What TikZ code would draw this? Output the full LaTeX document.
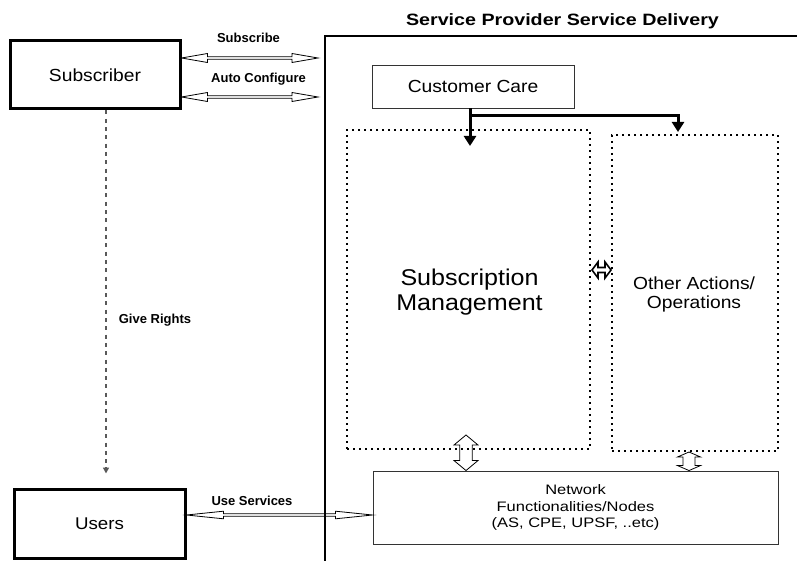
\documentclass[tikz,border=0pt]{standalone}
\usepackage{fontspec}
\setmainfont{Liberation Sans}
\newfontfamily\wf[FakeStretch=1.2]{Liberation Sans}
\newfontfamily\mf[FakeStretch=1.1]{Liberation Sans}
\usetikzlibrary{arrows.meta,calc}
% horizontal double-headed hollow arrow: [style] A B headlength halfwidth shafthalfwidth
\newcommand\hbiarrow[6][]{%
  \draw[hollow,#1] (#2) -- ++(#4,#5) -- ++(0,#6-#5) -- ($(#3)+(-#4,#6)$) -- ++(0,#5-#6) -- (#3)
    -- ++(-#4,-#5) -- ++(0,#5-#6) -- ($(#2)+(#4,-#6)$) -- ++(0,#6-#5) -- cycle;}
% vertical double-headed hollow arrow: [style] Atop Bbottom headlength halfwidth shafthalfwidth
\newcommand\vbiarrow[6][]{%
  \draw[hollow,#1] (#2) -- ++(#5,#4) -- ++(#6-#5,0) -- ($(#3)+(#6,-#4)$) -- ++(#5-#6,0) -- (#3)
    -- ++(-#5,-#4) -- ++(#5-#6,0) -- ($(#2)+(-#6,#4)$) -- ++(#6-#5,0) -- cycle;}
\begin{document}
\begin{tikzpicture}[x=1pt,y=-1pt,
  thickbox/.style={draw, line width=3pt, inner sep=0pt},
  thinbox/.style={draw=black!80, line width=0.9pt, inner sep=0pt},
  dotbox/.style={draw, line width=2pt, dash pattern=on 2pt off 4pt, inner sep=0pt},
  lbl/.style={font=\fontsize{13}{15}\selectfont\bfseries, inner sep=0pt},
  hollow/.style={draw=black, line width=0.8pt, line join=miter},
  ccarrow/.style={line width=3pt, -{Triangle[length=10pt,width=12pt]}},
  rightsarrow/.style={draw=black!65, line width=1.5pt, dash pattern=on 4pt off 4.3pt,
    -{Triangle[length=6pt,width=6pt]}}]
\useasboundingbox (0,0) rectangle (797,561);

% boxes
\node[thickbox, minimum width=170pt, minimum height=68pt, font=\mf\fontsize{17.5}{20}\selectfont]
  (sub) at (95,75) {Subscriber};
\node[thickbox, minimum width=171pt, minimum height=69pt, font=\mf\fontsize{17}{20}\selectfont]
  (users) at (99.5,523.5) {Users};
\node[thinbox, minimum width=202pt, minimum height=43pt, font=\mf\fontsize{17.5}{20}\selectfont]
  (cc) at (473,86.5) {Customer Care};
\node[dotbox, minimum width=243pt, minimum height=319pt] (sm) at (468.5,289.5) {};
\node[font=\mf\fontsize{22.8}{25}\selectfont, align=center] (smt) at (469.5,292) {Subscription\\Management};
\node[dotbox, minimum width=166pt, minimum height=316pt] (oa) at (695,293) {};
\node[font=\mf\fontsize{17.5}{19}\selectfont, align=center] (oat) at (694,294) {Other Actions/\\Operations};
\node[thinbox, minimum width=405pt, minimum height=73pt, font=\wf\fontsize{13.75}{16.5}\selectfont, align=center]
  (net) at (575.5,507.5) {Network\\Functionalities/Nodes\\(AS, CPE, UPSF, ..etc)};

% title and labels
\node[font=\wf\fontsize{16.4}{19}\selectfont\bfseries, inner sep=0pt] (title) at (562.5,21) {Service Provider Service Delivery};
\node[lbl] (lsub) at (248.5,38) {Subscribe};
\node[lbl] (lauto) at (258.5,79) {Auto Configure};
\node[lbl] (luse) at (252,501) {Use Services};
\node[lbl] (lgive) at (155,320) {Give Rights};

% coordinates
\path (sub.east) ++(0,-17) coordinate (s1a);
\coordinate (s1b) at (318,58);
\path (sub.east) ++(0,22) coordinate (s2a);
\coordinate (s2b) at (318,97);
\path (users.east) ++(0,-8.5) coordinate (u1);
\path (u1 -| net.west) coordinate (u2);
\coordinate (v1t) at (466,435);
\path (v1t |- net.north) coordinate (v1b);
\path (oa.south) ++(-6,0) coordinate (v2t);
\path (v2t |- net.north) coordinate (v2b);
\path (sm.east) ++(1,-19.5) coordinate (h3a);
\path (h3a -| oa.west) coordinate (h3b);

% hollow double arrows
\hbiarrow{s1a}{s1b}{26}{4.5}{1.3}
\hbiarrow{s2a}{s2b}{26}{4.5}{1.3}
\hbiarrow{u1}{u2}{37}{3.8}{1.3}
\vbiarrow{v1t}{v1b}{10}{12}{6.3}
\vbiarrow{v2t}{v2b}{5}{11.5}{6}
\hbiarrow[line width=1.6pt]{h3a}{h3b}{6}{8}{2.5}

% customer care arrows
\path (cc.south) ++(-3,0) coordinate (cc1);
\draw[ccarrow] (cc1) -- ($(cc1 |- sm.north)+(0,17)$);
\draw[ccarrow] ($(cc1)+(0,7)$) -| ($(oa.north)+(-17,-2)$);

% give rights
\path (sub.south) ++(11,0) coordinate (d1);
\draw[rightsarrow] (d1) -- ($(d1 |- users.north)+(0,-14)$);

% provider frame
\coordinate (fc) at (325,36);
\draw[line width=2.8pt] (797,36) -- (fc) -- (325,561);
\end{tikzpicture}
\end{document}
